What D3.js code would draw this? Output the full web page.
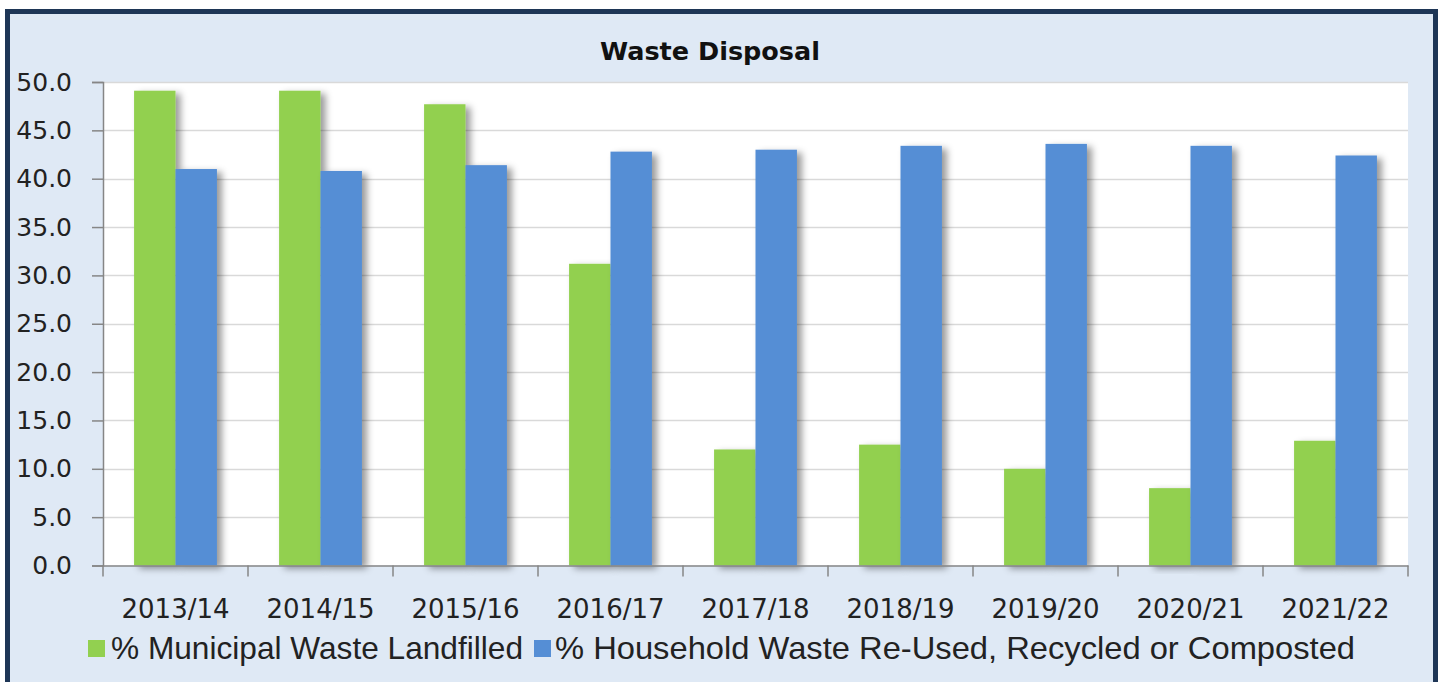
<!DOCTYPE html>
<html>
<head>
<meta charset="utf-8">
<script src="https://cdn.jsdelivr.net/npm/d3@7"></script>
<style>
  html, body { margin: 0; padding: 0; background: #ffffff; }
  svg { display: block; }
</style>
</head>
<body>
<svg id="chart" width="1445" height="682"></svg>
<script>
// ---- data ----
const categories = ["2013/14", "2014/15", "2015/16", "2016/17", "2017/18", "2018/19", "2019/20", "2020/21", "2021/22"];
const landfilled = [49.1, 49.1, 47.7, 31.2, 12.0, 12.5, 10.0, 8.0, 12.9];
const recycled   = [41.0, 40.8, 41.4, 42.8, 43.0, 43.4, 43.6, 43.4, 42.4];
const seriesNames = ["% Municipal Waste Landfilled", "% Household Waste Re-Used, Recycled or Composted"];
const yTicks = [0, 5, 10, 15, 20, 25, 30, 35, 40, 45, 50];
const title = "Waste Disposal";

// ---- layout ----
const W = 1445, H = 682;
const plot = { left: 103, right: 1408, top: 82, bottom: 565.5 };
const colors = ["#92d050", "#558ed5"];

const svg = d3.select("#chart");

const defs = svg.append("defs");
const f = defs.append("filter").attr("id", "shadow")
  .attr("x", "-20%").attr("y", "-5%").attr("width", "160%").attr("height", "115%");
f.append("feDropShadow").attr("dx", 5).attr("dy", 3).attr("stdDeviation", 3.5)
  .attr("flood-color", "#000").attr("flood-opacity", 0.4);

// background + frame
svg.append("rect").attr("x", 0).attr("y", 0).attr("width", W).attr("height", H).attr("fill", "#ffffff");
svg.append("rect").attr("x", 7.5).attr("y", 11.5).attr("width", 1428).attr("height", 700)
  .attr("fill", "#dfe9f5").attr("stroke", "#1e3656").attr("stroke-width", 5);

// plot area
svg.append("rect").attr("x", plot.left).attr("y", plot.top)
  .attr("width", plot.right - plot.left).attr("height", plot.bottom - plot.top)
  .attr("fill", "#ffffff");

// scales
const x0 = d3.scaleBand().domain(categories).range([plot.left, plot.right]).paddingInner(0).paddingOuter(0);
const x1 = d3.scaleBand().domain([0, 1]).range([0, x0.bandwidth()]).paddingOuter(0.75).paddingInner(0);
const y = d3.scaleLinear().domain([0, 50]).range([plot.bottom, plot.top]);

// gridlines
svg.append("g").selectAll("line").data(yTicks.filter(t => t > 0)).join("line")
  .attr("x1", plot.left).attr("x2", plot.right)
  .attr("y1", d => Math.round(y(d)) + 0.5).attr("y2", d => Math.round(y(d)) + 0.5)
  .attr("stroke", "#d9d9d9").attr("stroke-width", 1.5);

// bars
const groups = svg.append("g").selectAll("g").data(categories).join("g")
  .attr("transform", d => `translate(${x0(d)},0)`);
groups.selectAll("rect").data((d, i) => [landfilled[i], recycled[i]]).join("rect")
  .attr("x", (d, j) => x1(j))
  .attr("width", x1.bandwidth())
  .attr("y", d => y(d))
  .attr("height", d => plot.bottom - y(d))
  .attr("fill", (d, j) => colors[j])
  .attr("filter", "url(#shadow)");

// y axis
const yAxis = d3.axisLeft(y).tickValues(yTicks).tickFormat(d3.format(".1f")).tickSize(11).tickPadding(6);
const gy = svg.append("g").attr("transform", `translate(${plot.left},0)`).call(yAxis);
gy.select(".domain").attr("stroke", "#868686").attr("stroke-width", 1.5);
gy.selectAll(".tick line").attr("stroke", "#868686").attr("stroke-width", 1.5);
gy.selectAll("text").attr("font-family", "DejaVu Sans, sans-serif").attr("font-size", 25)
  .attr("fill", "#222").attr("x", -31);

// x axis
const xAxis = d3.axisBottom(x0).tickSize(0).tickPadding(0);
const gx = svg.append("g").attr("transform", `translate(0,${plot.bottom})`).call(xAxis);
gx.select(".domain").attr("stroke", "#868686").attr("stroke-width", 1.5);
gx.selectAll("text").attr("font-family", "DejaVu Sans, sans-serif").attr("font-size", 26)
  .attr("fill", "#222").attr("dy", 0).attr("y", 52);
// category boundary ticks
const bounds = categories.map(c => x0(c)).concat([x0(categories[categories.length - 1]) + x0.bandwidth()]);
gx.append("g").selectAll("line").data(bounds).join("line")
  .attr("x1", d => d).attr("x2", d => d).attr("y1", 0).attr("y2", 11)
  .attr("stroke", "#868686").attr("stroke-width", 1.5);

// title
svg.append("text").attr("x", 710).attr("y", 60)
  .attr("text-anchor", "middle").attr("font-family", "DejaVu Sans, sans-serif")
  .attr("font-weight", "bold").attr("font-size", 24).attr("fill", "#111")
  .attr("textLength", 220).attr("lengthAdjust", "spacingAndGlyphs")
  .text(title);

// legend
const legendItems = [
  { name: seriesNames[0], color: colors[0], sx: 88, tx: 111, len: 412 },
  { name: seriesNames[1], color: colors[1], sx: 534, tx: 555, len: 800 }
];
const lg = svg.append("g");
legendItems.forEach(it => {
  lg.append("rect").attr("x", it.sx).attr("y", 640).attr("width", 17).attr("height", 17).attr("fill", it.color);
  lg.append("text").attr("x", it.tx).attr("y", 659)
    .attr("font-family", "Liberation Sans, Arial, sans-serif").attr("font-size", 32)
    .attr("fill", "#222")
    .attr("textLength", it.len).attr("lengthAdjust", "spacingAndGlyphs")
    .text(it.name);
});
</script>
</body>
</html>
